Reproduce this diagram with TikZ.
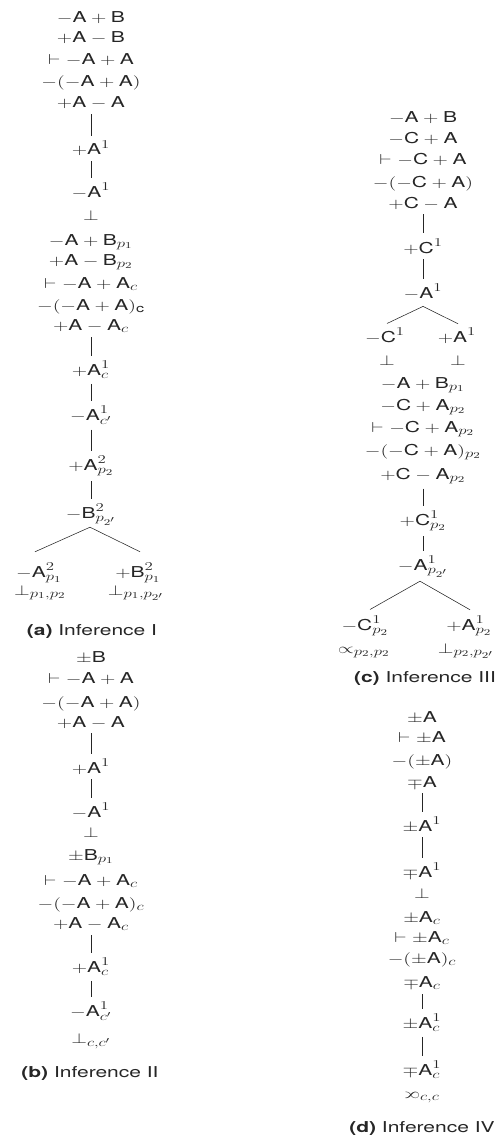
\documentclass[tikz,border=0pt]{standalone}
\usepackage{amsmath}
\usepackage{graphicx}
\usepackage{fontspec}
\setsansfont{TeX Gyre Heros}
\usetikzlibrary{calc}
\DeclareMathSizes{15}{15}{11.5}{9}
% sans-serif atoms
\newcommand\lA{\textsf{A}}
\newcommand\lB{\textsf{B}}
\newcommand\lC{\textsf{C}}
\newcommand\lc{\textsf{c}}
% horizontally widened formula / caption
\newcommand\wf[1]{\scalebox{1.4}[1]{$#1$}}
\newcommand\wcap[2]{\scalebox{1.4}[1]{\sffamily\textbf{(#1)} #2}}
\newcommand\rprop{\mathrel{\reflectbox{$\propto$}}}
\colorlet{ink}{black!85}
\tikzset{
  lbl/.style={anchor=base, inner sep=0pt, text=ink, font=\fontsize{15}{18}\selectfont},
  conn/.style={draw=ink, line width=0.55pt, shorten <=5pt, shorten >=5pt},
  branch/.style={draw=ink, line width=0.55pt},
}
\begin{document}
\begin{tikzpicture}[x=1pt, y=-1pt]
\useasboundingbox (0,0) rectangle (501,1142);

% ---------------- (a) Inference I ----------------
\node[lbl] (a1)  at (91,23)  {\wf{-\lA+\lB}};
\node[lbl] (a2)  at (91,43)  {\wf{+\lA-\lB}};
\node[lbl] (a3)  at (91,65)  {\wf{\vdash -\lA+\lA}};
\node[lbl] (a4)  at (91,87)  {\wf{-(-\lA+\lA)}};
\node[lbl] (a5)  at (91,108) {\wf{+\lA-\lA}};
\node[lbl] (a6)  at (91,155) {\wf{+\lA^1}};
\node[lbl] (a7)  at (91,197) {\wf{-\lA^1}};
\node[lbl] (a8)  at (91,220) {\wf{\perp}};
\node[lbl] (a9)  at (91,245) {\wf{-\lA+\lB_{p_1}}};
\node[lbl] (a10) at (91,265) {\wf{+\lA-\lB_{p_2}}};
\node[lbl] (a11) at (91,288) {\wf{\vdash -\lA+\lA_c}};
\node[lbl] (a12) at (91,310) {\wf{-(-\lA+\lA)_{\lc}}};
\node[lbl] (a13) at (91,330) {\wf{+\lA-\lA_c}};
\node[lbl] (a14) at (91,375) {\wf{+\lA_c^1}};
\node[lbl] (a15) at (91,420) {\wf{-\lA_{c'}^1}};
\node[lbl] (a16) at (91,470) {\wf{+\lA_{p_2}^2}};
\node[lbl] (a17) at (91,518) {\wf{-\lB_{p_{2'}}^2}};
\node[lbl] (a18) at (39,577) {\wf{-\lA_{p_1}^2}};
\node[lbl] (a19) at (138,577) {\wf{+\lB_{p_1}^2}};
\node[lbl] (a20) at (40,595) {\wf{\perp_{p_1,p_2}}};
\node[lbl] (a21) at (136,595) {\wf{\perp_{p_1,p_{2'}}}};
\node[lbl] (capa) at (92,635) {\wcap{a}{Inference I}};

\draw[conn] (a5.south) -- (a5.south |- a6.north);
\draw[conn] (a6.south) -- (a6.south |- a7.north);
\draw[conn] (a13.south) -- (a13.south |- a14.north);
\draw[conn] (a14.south) -- (a14.south |- a15.north);
\draw[conn] (a15.south) -- (a15.south |- a16.north);
\draw[conn] (a16.south) -- (a16.south |- a17.north);
\draw[branch] ($(a17.south)+(-1,2)$) -- ($(a18.north)+(-4,-11)$);
\draw[branch] ($(a17.south)+(-1,2)$) -- ($(a19.north)+(2,-11)$);

% ---------------- (b) Inference II ----------------
\node[lbl] (b1)  at (91,662)  {\wf{\pm\lB}};
\node[lbl] (b2)  at (91,683)  {\wf{\vdash -\lA+\lA}};
\node[lbl] (b3)  at (91,707)  {\wf{-(-\lA+\lA)}};
\node[lbl] (b4)  at (91,727)  {\wf{+\lA-\lA}};
\node[lbl] (b5)  at (91,773)  {\wf{+\lA^1}};
\node[lbl] (b6)  at (91,817)  {\wf{-\lA^1}};
\node[lbl] (b7)  at (91,837)  {\wf{\perp}};
\node[lbl] (b8)  at (91,860)  {\wf{\pm\lB_{p_1}}};
\node[lbl] (b9)  at (91,885)  {\wf{\vdash -\lA+\lA_c}};
\node[lbl] (b10) at (91,908)  {\wf{-(-\lA+\lA)_c}};
\node[lbl] (b11) at (91,928)  {\wf{+\lA-\lA_c}};
\node[lbl] (b12) at (91,972)  {\wf{+\lA_c^1}};
\node[lbl] (b13) at (91,1016) {\wf{-\lA_{c'}^1}};
\node[lbl] (b14) at (91,1043) {\wf{\perp_{c,c'}}};
\node[lbl] (capb) at (90,1077) {\wcap{b}{Inference II}};

\draw[conn] (b4.south) -- (b4.south |- b5.north);
\draw[conn] (b5.south) -- (b5.south |- b6.north);
\draw[conn] (b11.south) -- (b11.south |- b12.north);
\draw[conn] (b12.south) -- (b12.south |- b13.north);

% ---------------- (c) Inference III ----------------
\node[lbl] (c1)  at (423,123) {\wf{-\lA+\lB}};
\node[lbl] (c2)  at (423,144) {\wf{-\lC+\lA}};
\node[lbl] (c3)  at (423,165) {\wf{\vdash -\lC+\lA}};
\node[lbl] (c4)  at (423,187) {\wf{-(-\lC+\lA)}};
\node[lbl] (c5)  at (423,208) {\wf{+\lC-\lA}};
\node[lbl] (c6)  at (423,253) {\wf{+\lC^1}};
\node[lbl] (c7)  at (423,298) {\wf{-\lA^1}};
\node[lbl] (c8)  at (385,342) {\wf{-\lC^1}};
\node[lbl] (c9)  at (457,342) {\wf{+\lA^1}};
\node[lbl] (c10) at (387,365) {\wf{\perp}};
\node[lbl] (c11) at (458,365) {\wf{\perp}};
\node[lbl] (c12) at (423,388) {\wf{-\lA+\lB_{p_1}}};
\node[lbl] (c13) at (423,410) {\wf{-\lC+\lA_{p_2}}};
\node[lbl] (c14) at (423,432) {\wf{\vdash -\lC+\lA_{p_2}}};
\node[lbl] (c15) at (423,455) {\wf{-(-\lC+\lA)_{p_2}}};
\node[lbl] (c16) at (423,479) {\wf{+\lC-\lA_{p_2}}};
\node[lbl] (c17) at (423,525) {\wf{+\lC_{p_2}^1}};
\node[lbl] (c18) at (423,570) {\wf{-\lA_{p_{2'}}^1}};
\node[lbl] (c19) at (365,630) {\wf{-\lC_{p_2}^1}};
\node[lbl] (c20) at (469,630) {\wf{+\lA_{p_2}^1}};
\node[lbl] (c21) at (364,653) {\wf{\propto_{p_2,p_2}}};
\node[lbl] (c22) at (466,653) {\wf{\perp_{p_2,p_{2'}}}};
\node[lbl] (capc) at (425,682) {\wcap{c}{Inference III}};

\draw[conn] (c5.south) -- (c5.south |- c6.north);
\draw[conn] (c6.south) -- (c6.south |- c7.north);
\draw[branch] ($(c7.south)+(0,7)$) -- ($(c8.north)+(2,-4)$);
\draw[branch] ($(c7.south)+(0,7)$) -- ($(c9.north)+(1,-4)$);
\draw[conn] (c16.south) -- (c16.south |- c17.north);
\draw[conn] (c17.south) -- (c17.south |- c18.north);
\draw[branch] ($(c18.south)+(-3,4)$) -- ($(c19.north)+(5,-6)$);
\draw[branch] ($(c18.south)+(-3,4)$) -- ($(c20.north)+(1,-6)$);

% ---------------- (d) Inference IV ----------------
\node[lbl] (d1)  at (422,722)  {\wf{\pm\lA}};
\node[lbl] (d2)  at (422,742)  {\wf{\vdash \pm\lA}};
\node[lbl] (d3)  at (422,765)  {\wf{-(\pm\lA)}};
\node[lbl] (d4)  at (422,787)  {\wf{\mp\lA}};
\node[lbl] (d5)  at (422,831)  {\wf{\pm\lA^1}};
\node[lbl] (d6)  at (422,877)  {\wf{\mp\lA^1}};
\node[lbl] (d7)  at (422,898)  {\wf{\perp}};
\node[lbl] (d8)  at (422,922)  {\wf{\pm\lA_c}};
\node[lbl] (d9)  at (422,942)  {\wf{\vdash \pm\lA_c}};
\node[lbl] (d10) at (422,963)  {\wf{-(\pm\lA)_c}};
\node[lbl] (d11) at (422,987)  {\wf{\mp\lA_c}};
\node[lbl] (d12) at (422,1028) {\wf{\pm\lA_c^1}};
\node[lbl] (d13) at (422,1075) {\wf{\mp\lA_c^1}};
\node[lbl] (d14) at (422,1098) {\wf{\rprop_{c,c}}};
\node[lbl] (capd) at (422,1132) {\wcap{d}{Inference IV}};

\draw[conn] (d4.south) -- (d4.south |- d5.north);
\draw[conn] (d5.south) -- (d5.south |- d6.north);
\draw[conn] (d11.south) -- (d11.south |- d12.north);
\draw[conn] (d12.south) -- (d12.south |- d13.north);
\end{tikzpicture}
\end{document}
